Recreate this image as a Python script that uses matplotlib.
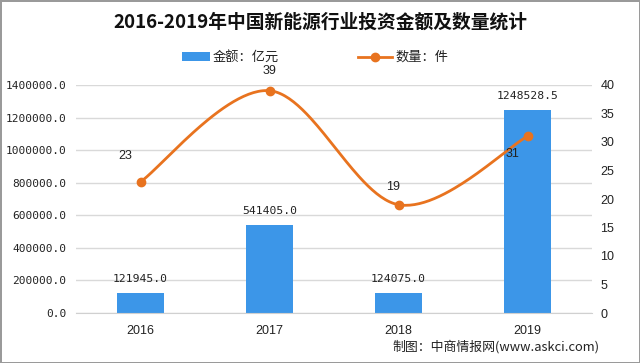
import numpy as np
import matplotlib
matplotlib.use("Agg")
import matplotlib.pyplot as plt
from matplotlib.patches import Rectangle
from matplotlib.lines import Line2D

plt.rcParams['font.family'] = ['Noto Sans CJK SC', 'DejaVu Sans']

years = ['2016', '2017', '2018', '2019']
amount = [121945.0, 541405.0, 124075.0, 1248528.5]   # 金额：亿元
count = [23, 39, 19, 31]                               # 数量：件
left_ticks = [0, 200000, 400000, 600000, 800000, 1000000, 1200000, 1400000]
right_ticks = [0, 5, 10, 15, 20, 25, 30, 35, 40]

title = '2016-2019年中国新能源行业投资金额及数量统计'
legend_labels = ['金额：亿元', '数量：件']
source = '制图：中商情报网(www.askci.com)'

bar_color = '#3C96E8'
line_color = '#E8731F'

W, H = 640, 363
fig = plt.figure(figsize=(6.4, 3.63), dpi=100)
fig.patch.set_facecolor('white')
fig.patch.set_edgecolor('#9a9a9a')
fig.patch.set_linewidth(2)

def fx(px):
    return px / W

def fy(py):
    return 1 - py / H

ax = fig.add_axes([fx(76), fy(313), (592-76)/W, (313-85)/H])
x = np.arange(len(years))
ax.bar(x, amount, width=0.36, color=bar_color, zorder=2)
ax.set_xlim(-0.5, len(years)-0.5)
ax.set_ylim(0, 1400000)
ax.set_yticks(left_ticks)
ax.set_yticklabels([f'{v:.1f}' for v in left_ticks], family='DejaVu Sans Mono', fontsize=8, color='#222222')
ax.set_xticks(x)
ax.set_xticklabels(years, family='Liberation Sans', fontsize=9, color='#222222')
ax.tick_params(axis='both', length=0)
ax.tick_params(axis='y', pad=7)
ax.tick_params(axis='x', pad=9)
ax.grid(axis='y', color='#d9d9d9', linewidth=1, zorder=0)
for s in ['top', 'left', 'right']:
    ax.spines[s].set_visible(False)
ax.spines['bottom'].set_color('#d0d0d0')

for xi, v in zip(x, amount):
    ax.annotate(f'{v:.1f}', (xi, v), xytext=(0, 10), textcoords='offset points',
                ha='center', va='center', family='DejaVu Sans Mono', fontsize=8.2, color='#222222')

ax2 = ax.twinx()
ax2.set_ylim(0, 40)
ax2.set_yticks(right_ticks)
ax2.set_yticklabels([str(v) for v in right_ticks], family='Liberation Sans', fontsize=9, color='#222222')
ax2.tick_params(axis='y', length=0, pad=6)
for s in ['top', 'left', 'right', 'bottom']:
    ax2.spines[s].set_visible(False)

# smoothed line (Bezier smoothing similar to Excel)
px = np.array(x, dtype=float)
py = np.array(count, dtype=float)
P = np.column_stack([px, py])
Pext = np.vstack([P[0], P, P[-1]])
curve = []
t = np.linspace(0, 1, 60)
for i in range(len(P)-1):
    p0, p1, p2, p3 = Pext[i], Pext[i+1], Pext[i+2], Pext[i+3]
    c1 = p1 + (p2 - p0) / 6
    c2 = p2 - (p3 - p1) / 6
    seg = ((1-t)**3)[:, None]*p1 + (3*(1-t)**2*t)[:, None]*c1 + (3*(1-t)*t**2)[:, None]*c2 + (t**3)[:, None]*p2
    curve.append(seg)
curve = np.vstack(curve)
ax2.plot(curve[:, 0], curve[:, 1], color=line_color, linewidth=2, zorder=3, solid_capstyle='round')
ax2.plot(px, py, 'o', color=line_color, markersize=6, zorder=4)

label_offsets = [(-11, 19), (0, 14), (-4, 13), (-11, -13)]
for xi, v, off in zip(px, count, label_offsets):
    ax2.annotate(str(v), (xi, v), xytext=off, textcoords='offset points',
                 ha='center', va='center', family='Liberation Sans', fontsize=9, color='#222222')

fig.text(0.5, fy(22), title, ha='center', va='center', fontsize=13.5, fontweight='bold', color='#111111')

# legend drawn in figure coordinates
fig.patches.append(Rectangle((fx(182), fy(61)), (210-182)/W, 9/H, transform=fig.transFigure,
                             facecolor=bar_color, edgecolor='none'))
fig.text(fx(213), fy(57), legend_labels[0], ha='left', va='center', fontsize=9.5, color='#222222')
fig.lines.append(Line2D([fx(358), fx(392)], [fy(57), fy(57)], transform=fig.transFigure,
                        color=line_color, linewidth=2))
fig.lines.append(Line2D([fx(375)], [fy(57)], transform=fig.transFigure, color=line_color,
                        marker='o', markersize=6, linestyle='none'))
fig.text(fx(395), fy(57), legend_labels[1], ha='left', va='center', fontsize=9.5, color='#222222')

fig.text(fx(600), fy(347), source, ha='right', va='center', fontsize=9.3, color='#222222')

fig.savefig('out.png', dpi=100, facecolor=fig.get_facecolor(), edgecolor=fig.get_edgecolor())
